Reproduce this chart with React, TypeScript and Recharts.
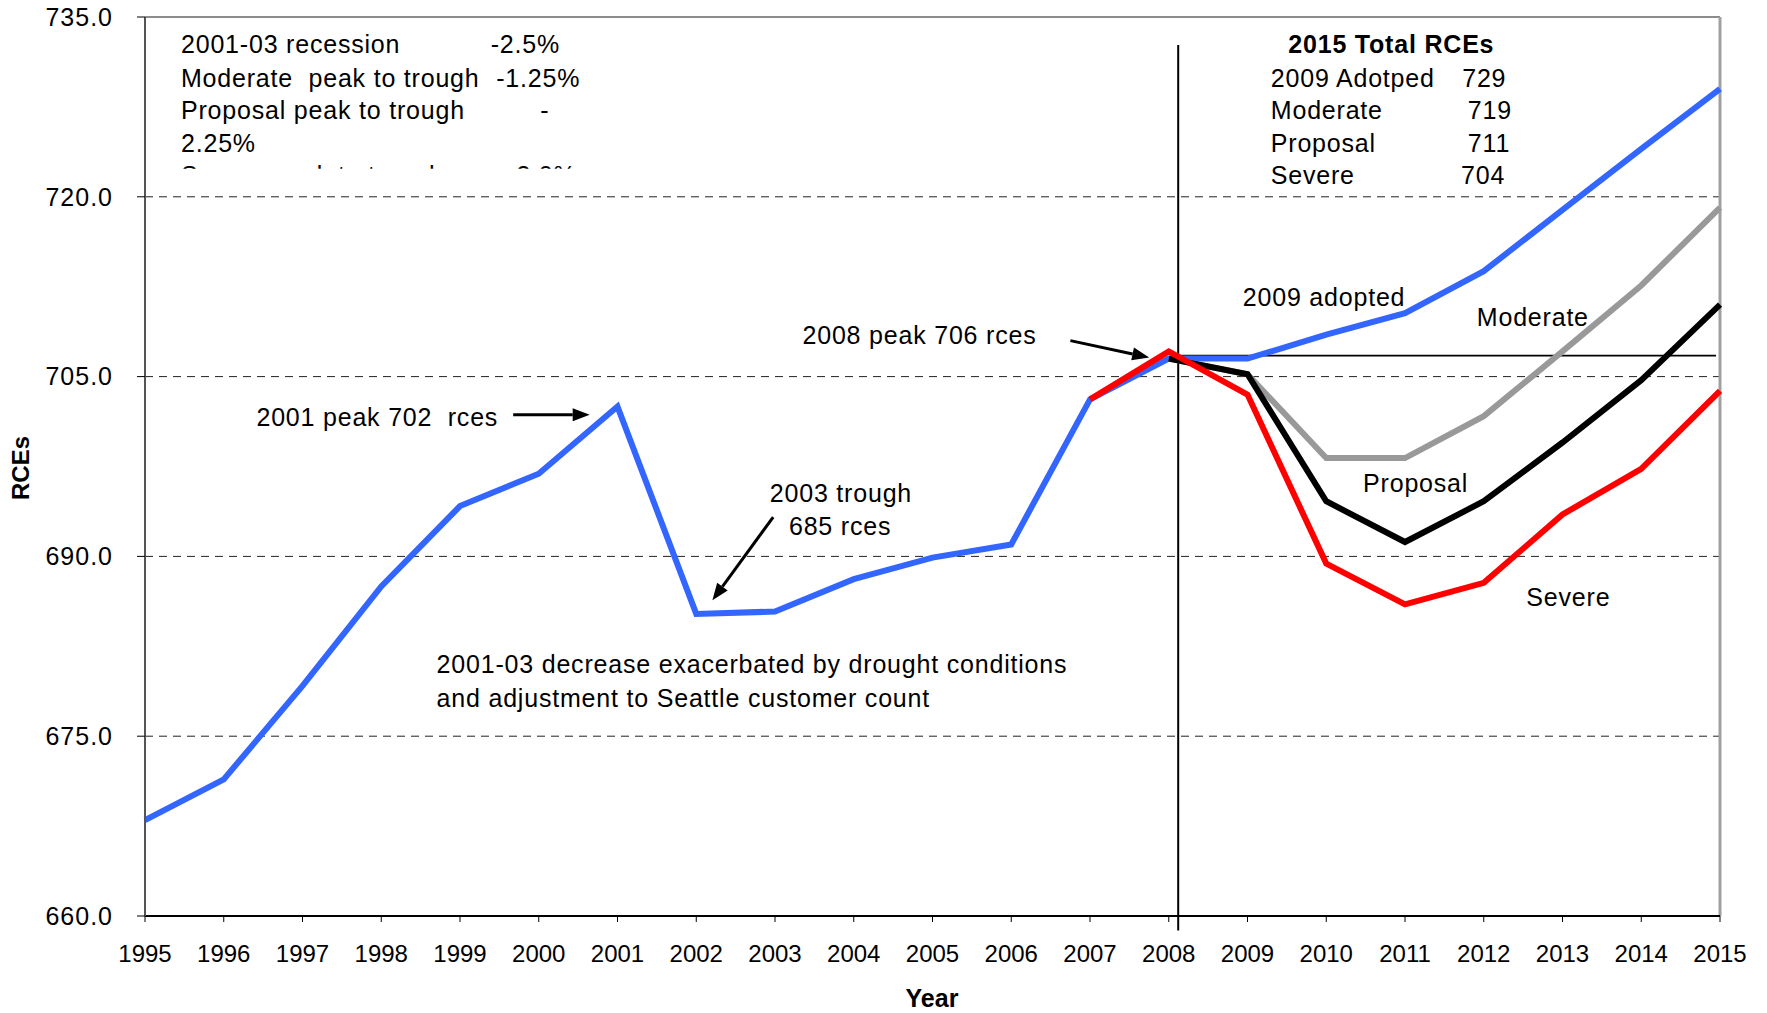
import React from 'react';
import {
  CartesianGrid,
  Line,
  LineChart,
  ReferenceArea,
  ReferenceDot,
  ReferenceLine,
  XAxis,
  YAxis,
} from 'recharts';

const years = [
  1995, 1996, 1997, 1998, 1999, 2000, 2001, 2002, 2003, 2004, 2005, 2006, 2007,
  2008, 2009, 2010, 2011, 2012, 2013, 2014, 2015,
];
// 1995-2008 actuals
const historyRces = [
  668.0, 671.4, 679.2, 687.5, 694.2, 696.9, 702.5, 685.2, 685.4, 688.1, 689.9,
  691.0, 703.1, 706.5,
];
// 2009-2015
const adoptedRces = [706.5, 708.5, 710.3, 713.8, 718.9, 724.0, 729.0];
// 2008-2015
const moderateRces = [706.5, 705.2, 698.2, 698.2, 701.7, 707.1, 712.6, 719.1];
const proposalRces = [706.5, 705.2, 694.6, 691.2, 694.6, 699.5, 704.7, 711.0];
// 2007-2015
const severeRces = [703.1, 707.1, 703.5, 689.4, 686.0, 687.8, 693.5, 697.3, 703.8];

const yTicks = [660, 675, 690, 705, 720, 735];
const peakLevel = 706.75;
const forecastStart = 2008.12;

const data = years.map((year, i) => ({
  year,
  adopted: i < historyRces.length ? historyRces[i] : adoptedRces[i - historyRces.length],
  moderate: i >= 13 ? moderateRces[i - 13] : undefined,
  proposal: i >= 13 ? proposalRces[i - 13] : undefined,
  severe: i >= 12 ? severeRces[i - 12] : undefined,
}));

const FONT = '"Liberation Sans", Arial, sans-serif';
const NARROW = '"Liberation Sans Narrow", "Liberation Sans", Arial, sans-serif';

type Note = { x: number; y: number; text: string; anchor?: 'start' | 'middle' | 'end'; bold?: boolean };

const notes: Note[] = [
  { x: 2010.826, y: 732.75, text: '2015 Total RCEs', anchor: 'middle', bold: true },
  { x: 2009.296, y: 729.94, text: '2009 Adotped' },
  { x: 2011.726, y: 729.94, text: '729' },
  { x: 2009.296, y: 727.22, text: 'Moderate' },
  { x: 2011.798, y: 727.22, text: '719' },
  { x: 2009.296, y: 724.5, text: 'Proposal' },
  { x: 2011.798, y: 724.5, text: '711' },
  { x: 2009.296, y: 721.78, text: 'Severe' },
  { x: 2011.712, y: 721.78, text: '704' },
  { x: 2008.94, y: 711.66, text: '2009 adopted' },
  { x: 2011.912, y: 709.97, text: 'Moderate' },
  { x: 2010.468, y: 696.09, text: 'Proposal' },
  { x: 2012.541, y: 686.63, text: 'Severe' },
  { x: 2003.349, y: 708.47, text: '2008 peak 706 rces' },
  { x: 1996.415, y: 701.63, text: '2001 peak 702  rces' },
  { x: 2002.934, y: 695.25, text: '2003 trough' },
  { x: 2003.177, y: 692.53, text: '685 rces' },
  { x: 1998.703, y: 681.0, text: '2001-03 decrease exacerbated by drought conditions' },
  { x: 1998.703, y: 678.19, text: 'and adjustment to Seattle customer count' },
];

const arrows = [
  { from: { x: 1999.675, y: 701.81 }, to: { x: 2000.647, y: 701.81 } },
  { from: { x: 2006.751, y: 708.0 }, to: { x: 2007.752, y: 706.59 } },
  { from: { x: 2002.977, y: 693.28 }, to: { x: 2002.205, y: 686.34 } },
];

// recession assumptions box (clipped in the original)
const boxLines = [
  { x: 1995.457, y: 732.75, text: '2001-03 recession' },
  { x: 1999.389, y: 732.75, text: '-2.5%' },
  { x: 1995.457, y: 729.94, text: 'Moderate  peak to trough' },
  { x: 1999.46, y: 729.94, text: '-1.25%' },
  { x: 1995.457, y: 727.22, text: 'Proposal peak to trough' },
  { x: 2000.02, y: 727.22, text: '-' },
  { x: 1995.457, y: 724.5, text: '2.25%' },
  { x: 1995.457, y: 721.78, text: 'Severe peak to trough' },
  { x: 1999.6, y: 721.78, text: '-3.0%' },
];
const box = { x1: 1995.3, x2: 2001.0, y1: 722.35, y2: 735 };

const textStyle = { fontFamily: FONT, fontSize: 25, letterSpacing: 0.8, whiteSpace: 'pre' as const };

function Arrow(props: any) {
  const { x1, y1, x2, y2 } = props;
  const ang = Math.atan2(y2 - y1, x2 - x1);
  const len = 17;
  const hw = 6.5;
  const bx = x2 - len * Math.cos(ang);
  const by = y2 - len * Math.sin(ang);
  const px = -Math.sin(ang) * hw;
  const py = Math.cos(ang) * hw;
  return (
    <g>
      <line x1={x1} y1={y1} x2={bx} y2={by} stroke="#000" strokeWidth={3} />
      <polygon points={`${x2},${y2} ${bx + px},${by + py} ${bx - px},${by - py}`} fill="#000" />
    </g>
  );
}

function BoxShape(props: any) {
  const { x, y, width, height } = props;
  const sx = width / (box.x2 - box.x1);
  const sy = height / (box.y2 - box.y1);
  return (
    <g>
      <defs>
        <clipPath id="assumptionClip">
          <rect x={x} y={y} width={width} height={height} />
        </clipPath>
      </defs>
      <g clipPath="url(#assumptionClip)">
        {boxLines.map((l, i) => (
          <text
            key={i}
            x={x + (l.x - box.x1) * sx}
            y={y + (box.y2 - l.y) * sy}
            dominantBaseline="central"
            fill="#000"
            style={textStyle}
          >
            {l.text}
          </text>
        ))}
      </g>
    </g>
  );
}

export default function App() {
  return (
    <div style={{ position: 'absolute', left: 0, top: 0, background: '#fff' }}>
      <LineChart
        width={1767}
        height={1013}
        data={data}
        margin={{ top: 17, right: 47, left: 45, bottom: 0 }}
      >
        <CartesianGrid vertical={false} stroke="#222" strokeDasharray="8 6" />
        <XAxis
          dataKey="year"
          type="number"
          domain={[1995, 2015]}
          ticks={years}
          interval={0}
          height={97}
          tickSize={6}
          tickMargin={23}
          axisLine={{ stroke: '#000', strokeWidth: 2 }}
          tickLine={{ stroke: '#000' }}
          tick={{ fill: '#000', fontSize: 24, fontFamily: FONT }}
        />
        <YAxis
          domain={[660, 735]}
          ticks={yTicks}
          width={100}
          tickSize={8}
          tickMargin={24}
          interval={0}
          tickFormatter={(v: number) => v.toFixed(1)}
          axisLine={{ stroke: '#555', strokeWidth: 2 }}
          tickLine={{ stroke: '#000' }}
          tick={{ fill: '#000', fontSize: 25, fontFamily: FONT, letterSpacing: 1 }}
        />
        <ReferenceLine y={735} stroke="#8c8c8c" strokeWidth={2} />
        <ReferenceLine x={2015} stroke="#a0a0a0" strokeWidth={3} />
        <ReferenceLine
          segment={[{ x: forecastStart, y: 732.66 }, { x: forecastStart, y: 658.8 }]}
          stroke="#000"
          strokeWidth={2}
          ifOverflow="visible"
        />
        <ReferenceLine
          segment={[{ x: forecastStart, y: peakLevel }, { x: 2014.95, y: peakLevel }]}
          stroke="#000"
          strokeWidth={1.6}
        />
        <Line
          dataKey="adopted"
          stroke="#3366FF"
          strokeWidth={6}
          dot={false}
          isAnimationActive={false}
        />
        <Line
          dataKey="moderate"
          stroke="#999999"
          strokeWidth={6}
          dot={false}
          isAnimationActive={false}
        />
        <Line
          dataKey="proposal"
          stroke="#000000"
          strokeWidth={6}
          dot={false}
          isAnimationActive={false}
        />
        <Line
          dataKey="severe"
          stroke="#FF0000"
          strokeWidth={6}
          dot={false}
          isAnimationActive={false}
        />
        <ReferenceArea
          x1={box.x1}
          x2={box.x2}
          y1={box.y1}
          y2={box.y2}
          ifOverflow="visible"
          shape={BoxShape}
        />
        {arrows.map((a, i) => (
          <ReferenceLine key={`a${i}`} segment={[a.from, a.to]} ifOverflow="visible" shape={Arrow} />
        ))}
        {notes.map((n, i) => (
          <ReferenceDot
            key={`n${i}`}
            x={n.x}
            y={n.y}
            r={0}
            ifOverflow="visible"
            shape={(p: any) => (
              <text
                x={p.cx}
                y={p.cy}
                textAnchor={n.anchor ?? 'start'}
                dominantBaseline="central"
                fill="#000"
                style={{ ...textStyle, fontWeight: n.bold ? 700 : 400 }}
              >
                {n.text}
              </text>
            )}
          />
        ))}
        <text
          x={932}
          y={998}
          textAnchor="middle"
          dominantBaseline="central"
          style={{ fontFamily: NARROW, fontSize: 25, fontWeight: 700 }}
        >
          Year
        </text>
        <text
          x={20}
          y={468}
          transform="rotate(-90 20 468)"
          textAnchor="middle"
          dominantBaseline="central"
          style={{ fontFamily: NARROW, fontSize: 24, fontWeight: 700 }}
        >
          RCEs
        </text>
      </LineChart>
    </div>
  );
}
